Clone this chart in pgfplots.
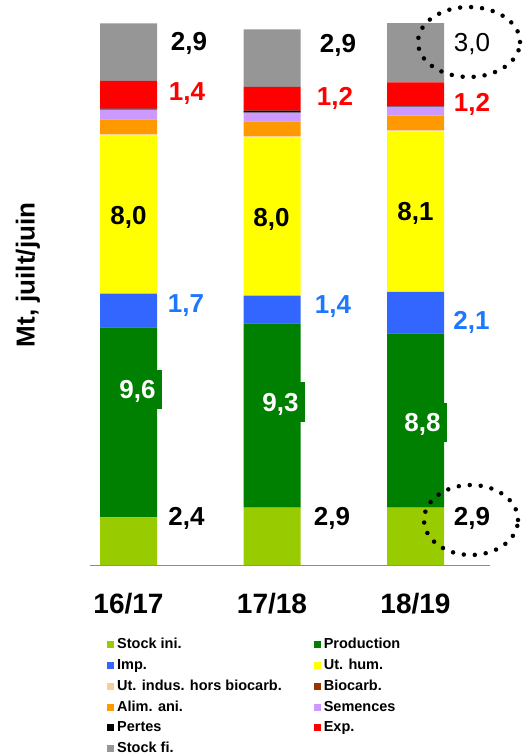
\documentclass[border=0pt]{standalone}
\usepackage{pgfplots}
\pgfplotsset{compat=1.18}
\usepackage{fontspec}
\setmainfont{Liberation Sans}
\definecolor{cStockIni}{HTML}{99CC00}
\definecolor{cProd}{HTML}{008000}
\definecolor{cImp}{HTML}{3366FF}
\definecolor{cHum}{HTML}{FFFF00}
\definecolor{cIndus}{HTML}{FFCC99}
\definecolor{cBio}{HTML}{993300}
\definecolor{cAlim}{HTML}{FF9900}
\definecolor{cSem}{HTML}{CC99FF}
\definecolor{cPert}{HTML}{000000}
\definecolor{cExp}{HTML}{FF0000}
\definecolor{cStockFi}{HTML}{969696}
\definecolor{cBlueLbl}{RGB}{30,120,255}
\pgfplotsset{sqleg/.style={legend image code/.code={\fill[##1] (0pt,-3.5pt) rectangle (7pt,3.5pt);}}}
\tikzset{
  lbl/.style={font=\bfseries\fontsize{26}{28}\selectfont, inner sep=0pt, text height=18.7pt, text depth=0pt, anchor=center},
  gbox/.style={lbl, fill=cProd, text=white, inner xsep=6pt, inner ysep=10.2pt},
  dotell/.style={line width=4.5pt, dash pattern=on 0pt off 11pt, line cap=round}
}
\begin{document}
\begin{tikzpicture}
\path[use as bounding box] (0,0) rectangle (528pt,756pt);
\begin{axis}[
  at={(90pt,191pt)}, anchor=south west,
  scale only axis, width=400pt, height=554.4pt,
  xmin=-0.2683, xmax=2.519, ymin=0, ymax=28,
  ybar stacked, bar width=57pt,
  axis x line=bottom, axis y line=none,
  x axis line style={draw=black!45, line width=1pt, -},
  xtick={0,1,2}, xticklabels={16/17,17/18,18/19},
  xtick style={draw=none},
  xticklabel style={font=\bfseries\fontsize{28}{30}\selectfont, yshift=-23pt},
  ytick=\empty,
  clip=false,
  legend columns=2,
  legend cell align=left,
  legend style={at={(axis description cs:0.0425,-0.1317)}, anchor=north west,
    draw=none, fill=none, inner sep=0pt,
    font=\bfseries\fontsize{14.5}{16}\selectfont, row sep=7.8pt,
    nodes={inner xsep=0pt, inner ysep=0pt, text height=10.4pt, text depth=2.6pt},
    /tikz/every odd column/.append style={column sep=3pt},
    /tikz/every even column/.append style={column sep=32pt}},
]
\addplot[fill=cStockIni, draw=none, sqleg] coordinates {(0,2.4) (1,2.9) (2,2.9)};
\addlegendentry{Stock ini.}
\addplot[fill=cProd, draw=none, sqleg] coordinates {(0,9.6) (1,9.3) (2,8.8)};
\addlegendentry{Production}
\addplot[fill=cImp, draw=none, sqleg] coordinates {(0,1.7) (1,1.4) (2,2.1)};
\addlegendentry{Imp.}
\addplot[fill=cHum, draw=none, sqleg] coordinates {(0,8.0) (1,8.0) (2,8.1)};
\addlegendentry{Ut. hum.}
\addplot[fill=cIndus, draw=none, sqleg] coordinates {(0,0.05) (1,0.05) (2,0.05)};
\addlegendentry{Ut. indus. hors biocarb.}
\addplot[fill=cBio, draw=none, sqleg] coordinates {(0,0) (1,0) (2,0)};
\addlegendentry{Biocarb.}
\addplot[fill=cAlim, draw=none, sqleg] coordinates {(0,0.75) (1,0.75) (2,0.75)};
\addlegendentry{Alim. ani.}
\addplot[fill=cSem, draw=none, sqleg] coordinates {(0,0.5) (1,0.45) (2,0.45)};
\addlegendentry{Semences}
\addplot[fill=cPert, draw=none, sqleg] coordinates {(0,0.05) (1,0.1) (2,0.02)};
\addlegendentry{Pertes}
\addplot[fill=cExp, draw=none, sqleg] coordinates {(0,1.4) (1,1.2) (2,1.2)};
\addlegendentry{Exp.}
\addplot[fill=cStockFi, draw=none, sqleg] coordinates {(0,2.9) (1,2.9) (2,3.0)};
\addlegendentry{Stock fi.}
\end{axis}
% value labels (annotation text)
\node[lbl] at (189pt,715pt) {2,9};
\node[lbl, text=cExp] at (187pt,665pt) {1,4};
\node[lbl] at (128.5pt,541pt) {8,0};
\node[lbl, text=cBlueLbl] at (186pt,453pt) {1,7};
\node[gbox] at (137.5pt,366.5pt) {9,6};
\node[lbl] at (186.5pt,240pt) {2,4};
\node[lbl] at (338pt,713pt) {2,9};
\node[lbl, text=cExp] at (335pt,660pt) {1,2};
\node[lbl] at (271.5pt,539pt) {8,0};
\node[lbl, text=cBlueLbl] at (333pt,452pt) {1,4};
\node[gbox] at (280.5pt,354pt) {9,3};
\node[lbl] at (332pt,240pt) {2,9};
\node[lbl, font=\fontsize{26}{28}\selectfont] at (472pt,714pt) {3,0};
\node[lbl, text=cExp] at (472pt,654pt) {1,2};
\node[lbl] at (415.5pt,545pt) {8,1};
\node[lbl, text=cBlueLbl] at (471.5pt,436pt) {2,1};
\node[gbox] at (422.5pt,333.5pt) {8,8};
\node[lbl] at (472pt,240pt) {2,9};
\draw[dotell] (469pt,714pt) ellipse [x radius=51pt, y radius=35pt];
\draw[dotell] (471pt,236pt) ellipse [x radius=47pt, y radius=35pt];
\node[rotate=90, font=\bfseries\fontsize{26}{28}\selectfont] at (28pt,481pt) {Mt, juilt/juin};
\end{tikzpicture}
\end{document}
